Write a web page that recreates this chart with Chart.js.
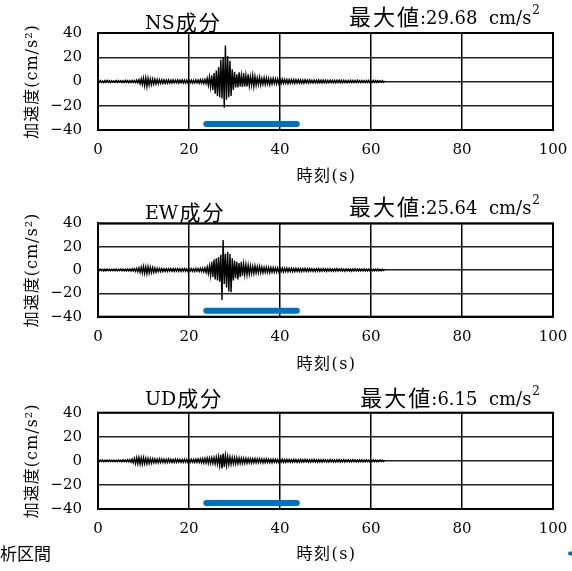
<!DOCTYPE html>
<html>
<head>
<meta charset="utf-8">
<script src="https://cdn.jsdelivr.net/npm/chart.js@4.4.1/dist/chart.umd.min.js"></script>
<style>
  html, body { margin: 0; padding: 0; background: #fff; }
  #wrap { position: relative; width: 572px; height: 571px; overflow: hidden; }
  .panel { position: absolute; left: 0; width: 572px; }
</style>
</head>
<body>
<div id="wrap">
  <div class="panel" style="top:0;height:190px"><canvas id="nsChart" width="572" height="190"></canvas></div>
  <div class="panel" style="top:190px;height:190px"><canvas id="ewChart" width="572" height="190"></canvas></div>
  <div class="panel" style="top:380px;height:191px"><canvas id="udChart" width="572" height="191"></canvas></div>
</div>
<script>
// acceleration records (cm/s^2), one sample every 0.25 s from t = 0 to 63 s
const sampleStep = 0.25;

const nsValues = [
  0.6,-0.5,0.8,-0.7,0.5,-0.9,0.7,-0.6,0.9,-0.5,0.6,-0.8,0.7,-0.6,0.5,-0.7,0.8,-0.6,0.7,-0.5,
  0.7,-0.8,0.6,-0.7,0.9,-0.6,0.8,-0.9,0.7,-0.8,0.9,-0.7,0.8,-1.0,1.2,-1.1,1.5,-1.8,2.2,-2.5,
  2.8,-3.5,3.0,-4.2,2.6,-3.0,2.2,-2.5,2.0,-2.2,1.8,-2.0,1.6,-1.8,1.5,-1.6,1.4,-1.5,1.3,-1.5,
  1.2,-1.4,1.3,-1.2,1.1,-1.3,1.4,-1.2,1.0,-1.1,1.2,-1.3,1.1,-1.0,1.3,-1.2,1.1,-1.3,1.2,-1.1,
  1.2,-1.0,1.1,-1.3,1.0,-1.2,1.3,-1.1,1.2,-1.4,1.5,-1.3,1.4,-1.6,1.8,-1.7,2.5,-3.0,3.8,-4.5,
  5,-7,7,-10,9,-12,12,-13,18,-14,20,-21.6,29.68,-15,21,-13,17,-12,10,-7,
  8,-5,6,-5,7.5,-4,5,-4.5,7,-4,5,-4,6,-3.5,4,-3,5,-4,4,-3,
  3,-2.5,3.5,-2.8,2.5,-2.2,3,-2.5,2.8,-2,2.4,-2.6,2.2,-2,2.5,-1.8,2.2,-2,2,-1.8,
  1.8,-1.6,2,-1.5,1.7,-1.4,1.6,-1.8,1.5,-1.4,1.6,-1.3,1.5,-1.5,1.4,-1.3,1.5,-1.2,1.3,-1.4,
  1.2,-1.3,1.4,-1.1,1.2,-1.2,1.3,-1.0,1.1,-1.2,1.2,-1.1,1.0,-1.2,1.3,-1.0,1.1,-1.1,1.2,-1.0,
  1.0,-1.1,0.9,-1.0,1.1,-0.9,1.0,-1.0,0.9,-1.1,1.0,-0.8,1.1,-0.9,0.9,-1.0,1.0,-0.9,0.8,-1.0,
  0.9,-0.8,1.0,-0.9,0.8,-0.9,0.9,-0.8,1.0,-0.7,0.8,-0.9,0.9,-0.8,0.7,-0.9,0.8,-0.7,0.9,-0.8,
  0.8,-0.7,0.9,-0.8,0.7,-0.8,0.8,-0.7,0.6,-0.7,0.7,-0.6,0.5
];

const ewValues = [
  0.5,-0.6,0.7,-0.5,0.6,-0.8,0.6,-0.7,0.8,-0.6,0.5,-0.7,0.6,-0.5,0.7,-0.6,0.8,-0.7,0.6,-0.5,
  0.7,-0.6,0.8,-0.7,0.6,-0.8,0.9,-0.7,0.8,-0.9,1.0,-0.8,1.1,-1.2,1.4,-1.5,1.8,-2.0,2.4,-2.6,
  3.0,-2.8,2.7,-3.2,2.9,-2.6,2.4,-2.3,2.0,-2.1,1.7,-1.8,1.5,-1.4,1.3,-1.5,1.2,-1.3,1.1,-1.2,
  1.0,-1.2,1.1,-1.0,1.2,-1.1,1.0,-1.3,1.1,-1.0,1.2,-1.1,1.0,-1.2,1.1,-0.9,1.2,-1.1,1.0,-1.2,
  1.1,-1.0,1.2,-1.1,1.0,-1.2,1.3,-1.1,1.2,-1.3,1.4,-1.2,1.5,-1.6,1.8,-2.0,2.6,-3.0,3.5,-4.5,
  7,-6,9,-8,10,-9,11,-10,13,-25.6,25.64,-12,14,-15,15.6,-18.5,14,-19,10,-9,
  8,-7,7,-8,6,-6,7,-5,5,-4,4.5,-4,4,-3.5,3.5,-3,3,-3,3.5,-2.5,
  2.8,-2.5,3,-2.2,2.5,-2.4,2.2,-2,2.4,-2.1,2,-2.2,2.1,-1.8,2,-1.9,1.8,-1.7,1.9,-1.6,
  1.7,-1.5,1.6,-1.7,1.5,-1.4,1.6,-1.5,1.4,-1.3,1.5,-1.4,1.3,-1.4,1.4,-1.2,1.3,-1.3,1.2,-1.3,
  1.2,-1.1,1.3,-1.2,1.1,-1.2,1.2,-1.0,1.1,-1.1,1.0,-1.2,1.1,-1.0,1.2,-1.1,1.0,-1.0,1.1,-0.9,
  1.0,-1.1,1.0,-0.9,1.1,-1.0,0.9,-1.0,1.0,-0.9,1.1,-1.0,0.9,-0.8,1.0,-0.9,0.8,-1.0,0.9,-0.8,
  0.9,-0.9,0.8,-1.0,0.9,-0.8,1.0,-0.8,0.8,-0.9,0.9,-0.8,0.8,-0.7,0.9,-0.8,0.7,-0.8,0.8,-0.7,
  0.8,-0.7,0.7,-0.8,0.7,-0.6,0.8,-0.7,0.6,-0.7,0.6,-0.5,0.5
];

const udValues = [
  0.5,-0.6,0.6,-0.5,0.7,-0.6,0.5,-0.7,0.6,-0.5,0.7,-0.6,0.5,-0.6,0.6,-0.7,0.5,-0.6,0.7,-0.5,
  0.6,-0.7,0.8,-0.6,0.7,-0.8,0.9,-0.8,1.0,-1.1,1.4,-1.6,2.0,-2.2,2.6,-2.4,2.8,-2.6,2.5,-2.8,
  2.6,-2.4,2.2,-2.5,2.0,-2.1,1.8,-1.9,1.7,-1.6,1.5,-1.7,1.4,-1.5,1.6,-1.4,1.5,-1.3,1.4,-1.5,
  1.3,-1.4,1.5,-1.2,1.3,-1.4,1.2,-1.3,1.4,-1.2,1.3,-1.1,1.2,-1.3,1.1,-1.2,1.3,-1.1,1.2,-1.3,
  1.1,-1.2,1.3,-1.1,1.2,-1.3,1.4,-1.2,1.5,-1.4,1.6,-1.5,1.8,-1.7,2.0,-1.8,2.2,-2.0,2.3,-2.1,
  2.4,-2.2,2.6,-2.5,3.0,-2.8,3.5,-4.0,5.0,-6.4,6.15,-5.0,4.5,-3.8,3.6,-3.2,3.0,-2.8,2.8,-2.5,
  2.6,-2.4,2.5,-2.2,2.3,-2.1,2.2,-2.0,2.1,-1.9,2.0,-1.8,1.9,-1.7,1.8,-1.8,1.7,-1.6,1.8,-1.6,
  1.6,-1.5,1.7,-1.4,1.5,-1.6,1.4,-1.5,1.6,-1.3,1.4,-1.4,1.3,-1.5,1.4,-1.2,1.3,-1.3,1.2,-1.4,
  1.2,-1.1,1.3,-1.2,1.1,-1.2,1.2,-1.0,1.1,-1.2,1.0,-1.1,1.2,-1.0,1.1,-1.1,1.0,-1.2,1.1,-1.0,
  1.0,-1.0,1.1,-0.9,1.0,-1.1,0.9,-1.0,1.0,-0.9,1.1,-1.0,0.9,-1.0,1.0,-0.9,0.9,-1.0,1.0,-0.8,
  0.9,-1.0,0.8,-0.9,1.0,-0.8,0.9,-0.9,0.8,-1.0,0.9,-0.8,1.0,-0.9,0.8,-0.8,0.9,-0.9,0.8,-0.7,
  0.8,-0.9,0.7,-0.8,0.9,-0.7,0.8,-0.8,0.7,-0.9,0.8,-0.7,0.8,-0.8,0.7,-0.7,0.8,-0.6,0.7,-0.8,
  0.7,-0.6,0.8,-0.7,0.6,-0.7,0.6,-0.6,0.7,-0.5,0.6,-0.5,0.5
];

// analysis interval (s) and the level it is drawn at
const analysisRange = [23.8, 43.7];
const analysisLevel = -35;

const xTicks = [0, 20, 40, 60, 80, 100];
const yTicks = [-40, -20, 0, 20, 40];

const SERIF = "'DejaVu Serif', 'Noto Sans CJK JP', serif";
const CJK = "'Noto Sans CJK JP', sans-serif";

function txt(ctx, s, x, y, font, spacing, align) {
  ctx.font = font;
  ctx.letterSpacing = spacing + 'px';
  ctx.textAlign = align || 'left';
  ctx.fillText(s, x, y);
  const w = ctx.measureText(s).width;
  ctx.letterSpacing = '0px';
  return w;
}

function decor(opt) {
  return {
    id: 'decor',
    afterDraw(chart) {
      const ctx = chart.ctx;
      const a = chart.chartArea;
      ctx.save();
      ctx.strokeStyle = '#000';
      ctx.lineWidth = 2;
      ctx.strokeRect(a.left, a.top, a.right - a.left, a.bottom - a.top);

      ctx.fillStyle = '#000';
      ctx.textBaseline = 'alphabetic';
      // component title: latin code + 成分
      const codeW = txt(ctx, opt.title, 145, opt.titleY, '19px ' + SERIF, 0);
      txt(ctx, '成分', 145 + codeW + 1, opt.titleY + 1, '21px ' + CJK, 2);

      // peak value: 最大値 + number + unit with superscript, right edge at x=540
      ctx.font = '12px ' + SERIF;
      const supW = ctx.measureText('2').width;
      let x = 540 - supW;
      txt(ctx, '2', x, opt.peakY - 10, '12px ' + SERIF, 0);
      x -= 1;
      ctx.font = '18px ' + SERIF;
      const tail = ':' + opt.peak + '  cm/s';
      x -= ctx.measureText(tail).width;
      txt(ctx, tail, x, opt.peakY, '18px ' + SERIF, 0);
      ctx.font = '22px ' + CJK;
      ctx.letterSpacing = '2px';
      const headW = ctx.measureText('最大値').width;
      ctx.letterSpacing = '0px';
      txt(ctx, '最大値', x - headW + 1, opt.peakY + 1.5, '22px ' + CJK, 2);

      // axis titles
      ctx.textBaseline = 'middle';
      txt(ctx, '時刻(s)', (a.left + a.right) / 2 + 1, a.bottom + opt.xTitleOff, '16px ' + SERIF, 1.5, 'center');
      ctx.save();
      ctx.translate(33, (a.top + a.bottom) / 2);
      ctx.rotate(-Math.PI / 2);
      txt(ctx, '加速度(cm/s²)', 0, 0, '16px ' + SERIF, 1, 'center');
      ctx.restore();

      if (opt.legend) {
        txt(ctx, '解析区間', -17, 174, '17px ' + CJK, 0);
        ctx.strokeStyle = '#0070C0';
        ctx.lineWidth = 4;
        ctx.lineCap = 'round';
        ctx.beginPath();
        ctx.moveTo(570, 173.5);
        ctx.lineTo(585, 173.5);
        ctx.stroke();
      }
      ctx.restore();
    }
  };
}

function makePanel(id, values, opt) {
  const trace = values.map((v, i) => ({ x: i * sampleStep, y: v }));
  const canvas = document.getElementById(id);
  return new Chart(canvas.getContext('2d'), {
    type: 'line',
    data: {
      datasets: [{
        data: trace,
        borderColor: '#000',
        borderWidth: 1.4,
        pointRadius: 0,
        tension: 0
      }, {
        data: [{ x: analysisRange[0], y: analysisLevel }, { x: analysisRange[1], y: analysisLevel }],
        borderColor: '#0070C0',
        borderWidth: 6,
        borderCapStyle: 'round',
        pointRadius: 0
      }]
    },
    options: {
      responsive: false,
      animation: false,
      events: [],
      layout: { padding: { top: opt.top, right: 19, left: 0, bottom: 0 } },
      plugins: { legend: { display: false }, tooltip: { enabled: false } },
      scales: {
        x: {
          type: 'linear', min: 0, max: 100,
          afterBuildTicks: s => { s.ticks = xTicks.map(v => ({ value: v })); },
          ticks: { color: '#000', font: { family: SERIF, size: 15 }, padding: 11, maxRotation: 0 },
          grid: { color: '#000', lineWidth: 1.5, drawTicks: false },
          border: { color: '#000', width: 2 },
          afterFit: s => { s.height = canvas.height - opt.bottom; s.paddingLeft = 0; s.paddingRight = 0; }
        },
        y: {
          type: 'linear', min: -40, max: 40,
          afterBuildTicks: s => { s.ticks = yTicks.map(v => ({ value: v })); },
          ticks: {
            color: '#000', font: { family: SERIF, size: 15 }, padding: 16,
            callback: v => v < 0 ? '−' + Math.abs(v) : String(v)
          },
          grid: { color: '#222', lineWidth: 1.5, drawTicks: false },
          border: { color: '#000', width: 2 },
          afterFit: s => { s.width = 98; s.paddingTop = 0; s.paddingBottom = 0; }
        }
      }
    },
    plugins: [decor(opt)]
  });
}

makePanel('nsChart', nsValues, { title: 'NS', peak: '29.68', top: 33, bottom: 130, titleY: 29, peakY: 23.5, xTitleOff: 46.5 });
makePanel('ewChart', ewValues, { title: 'EW', peak: '25.64', top: 33.3, bottom: 126.7, titleY: 28.5, peakY: 23.5, xTitleOff: 48 });
makePanel('udChart', udValues, { title: 'UD', peak: '6.15', top: 32.7, bottom: 129, titleY: 25, peakY: 24.5, xTitleOff: 46, legend: true });
</script>
</body>
</html>
